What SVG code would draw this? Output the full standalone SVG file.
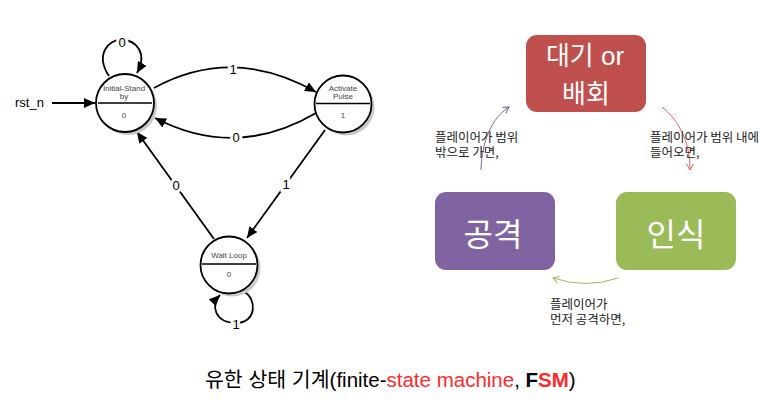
<svg xmlns="http://www.w3.org/2000/svg" width="783" height="416" viewBox="0 0 783 416">
<style>
.st{fill:#fff;stroke:#000;stroke-width:1.8}
.sh{fill:#c8c8c8}
.div{stroke:#000;stroke-width:1.5}
.nt{font-family:"Liberation Sans",Arial,sans-serif;font-size:8px;fill:#444;text-anchor:middle}
.e{fill:none;stroke:#000;stroke-width:1.8}
.lb{font-family:"Liberation Sans",Arial,sans-serif;font-size:13px;fill:#000;text-anchor:middle;stroke:#fff;stroke-width:6;paint-order:stroke}
.kb{font-family:"Liberation Sans","Noto Sans CJK KR",sans-serif;fill:#fff;text-anchor:middle}
.kl{font-family:"Noto Sans CJK KR","Noto Sans",sans-serif;font-size:12.5px;fill:#222}
.cap{font-family:"Liberation Sans","Noto Sans CJK KR",sans-serif;font-size:20.5px;fill:#000}
.red{fill:#ff2a2a}
</style>
<defs>
<marker id="ah" markerUnits="userSpaceOnUse" markerWidth="12" markerHeight="10" refX="11" refY="5" orient="auto">
<path d="M0,0 L11,5 L0,10 Z" fill="#000"/>
</marker>
<marker id="cp" markerUnits="userSpaceOnUse" markerWidth="8" markerHeight="8" refX="6" refY="3.5" orient="auto">
<path d="M0,0 L6,3.5 L0,7" fill="none" stroke="#8064A2" stroke-width="1"/>
</marker>
<marker id="cr" markerUnits="userSpaceOnUse" markerWidth="8" markerHeight="8" refX="6" refY="3.5" orient="auto">
<path d="M0,0 L6,3.5 L0,7" fill="none" stroke="#e06060" stroke-width="1"/>
</marker>
<marker id="cg" markerUnits="userSpaceOnUse" markerWidth="8" markerHeight="8" refX="6" refY="3.5" orient="auto">
<path d="M0,0 L6,3.5 L0,7" fill="none" stroke="#9BBB59" stroke-width="1"/>
</marker>
</defs>
<rect width="783" height="416" fill="#fff"/>

<g id="connectors">
<path class="e" d="M52,103 L95,103" marker-end="url(#ah)"/>
<path class="e" d="M109,76 C95,55 108,39 122,40 C136,40 148,53 137,73" marker-end="url(#ah)"/>
<path class="e" d="M154,88 Q233,45 316,92" marker-end="url(#ah)"/>
<path class="e" d="M316,113 Q236,160 155,118" marker-end="url(#ah)"/>
<path class="e" d="M325,130 L247,238" marker-end="url(#ah)"/>
<path class="e" d="M214,239 L137,132" marker-end="url(#ah)"/>
<path class="e" d="M244,292 C257,298 257,323 236,323 C215,323 210,305 220,295" marker-end="url(#ah)"/>
<text class="lb" x="122" y="47">0</text>
<text class="lb" x="233" y="74">1</text>
<text class="lb" x="236" y="142">0</text>
<text class="lb" x="286" y="189">1</text>
<text class="lb" x="176" y="190">0</text>
<text class="lb" x="236" y="329">1</text>
<text x="15" y="107" font-family="Liberation Sans,Arial,sans-serif" font-size="13" fill="#000">rst_n</text>

<path d="M481,170 C482,140 492,118 509,107" fill="none" stroke="#8064A2" stroke-width="1" marker-end="url(#cp)"/>
<path d="M662,107 C678,120 690,140 690,170" fill="none" stroke="#e06060" stroke-width="1" marker-end="url(#cr)"/>
<path d="M618,278 Q586,289 553,278" fill="none" stroke="#9BBB59" stroke-width="1" marker-end="url(#cg)"/>
</g>

<g id="initial">
<circle class="sh" cx="128" cy="106" r="29"/>
<circle class="st" cx="125" cy="103" r="29"/>
<line class="div" x1="98" y1="103" x2="152" y2="103"/>
<text class="nt" x="124" y="91">Initial-Stand</text>
<text class="nt" x="124" y="99">by</text>
<text class="nt" x="124" y="118">0</text>
</g>

<g id="activate">
<circle class="sh" cx="346" cy="107" r="28.5"/>
<circle class="st" cx="343" cy="104" r="28.5"/>
<line class="div" x1="316" y1="103.5" x2="370" y2="103.5"/>
<text class="nt" x="343" y="91">Activate</text>
<text class="nt" x="343" y="99">Pulse</text>
<text class="nt" x="343" y="118">1</text>
</g>

<g id="waitloop">
<circle class="sh" cx="232" cy="268" r="28.5"/>
<circle class="st" cx="229" cy="265" r="28.5"/>
<line class="div" x1="202" y1="264" x2="256" y2="264"/>
<text class="nt" x="229" y="258">Wait Loop</text>
<text class="nt" x="229" y="277">0</text>
</g>

<g id="wait-box">
<rect x="526" y="35" width="120" height="77" rx="11" fill="#C0504D"/>
<text class="kb" x="585" y="65" font-size="26">대기 or</text>
<text class="kb" x="586" y="103" font-size="26">배회</text>
</g>

<g id="attack-box">
<rect x="435" y="192" width="120" height="78" rx="11" fill="#8064A2"/>
<text class="kb" x="493" y="246" font-size="32">공격</text>
</g>

<g id="detect-box">
<rect x="616" y="192" width="120" height="78" rx="11" fill="#9BBB59"/>
<text class="kb" x="676" y="246" font-size="32">인식</text>
</g>

<g id="labels">
<text class="kl" x="435" y="142">플레이어가 범위</text>
<text class="kl" x="435" y="157">밖으로 가면,</text>
<text class="kl" x="650" y="142">플레이어가 범위 내에</text>
<text class="kl" x="650" y="157">들어오면,</text>
<text class="kl" x="550" y="309">플레이어가</text>
<text class="kl" x="550" y="324">먼저 공격하면,</text>
</g>

<g id="caption">
<text class="cap" x="205" y="387">유한 상태 기계(finite-<tspan class="red">state machine</tspan>, <tspan font-weight="bold">F</tspan><tspan font-weight="bold" class="red">SM</tspan>)</text>
</g>
</svg>
